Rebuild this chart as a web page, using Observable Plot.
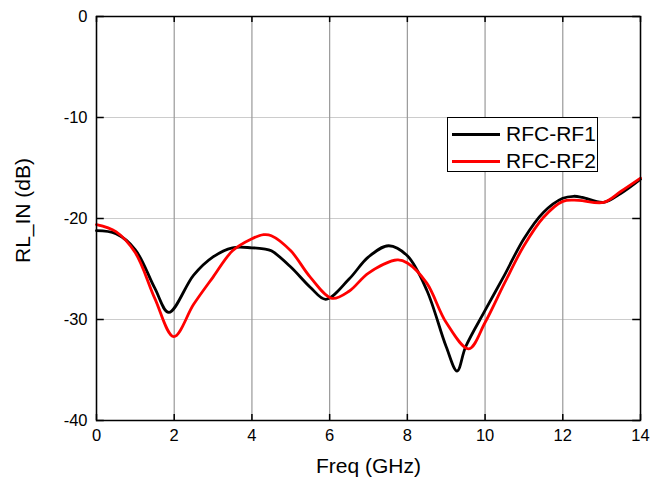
<!DOCTYPE html>
<html>
<head>
<meta charset="utf-8">
<script src="https://cdn.jsdelivr.net/npm/d3@7"></script>
<script src="https://cdn.jsdelivr.net/npm/@observablehq/plot@0.6"></script>
<style>
  body { margin: 0; background: #fff; }
  #wrap { position: relative; width: 654px; height: 489px; font-family: "Liberation Sans", Arial, sans-serif; }
  #legend { position: absolute; left: 447px; top: 117px; width: 151px; height: 55px; border: 1px solid #000; background: #fff; box-sizing: border-box; }
  .item { position: absolute; left: 0; height: 26px; display: flex; align-items: center; font-size: 21px; color: #000; }
  .item span.sw { display: inline-block; width: 48px; height: 3px; margin-left: 4px; margin-right: 6px; }
</style>
</head>
<body>
<div id="wrap"></div>
<script>
const rf1Freq = [0,0.5,1,1.5,1.86,2.5,3,3.5,4,4.3,4.5,5,5.5,5.9,6.5,7,7.52,8,8.5,9,9.28,9.5,10,10.5,11,11.5,12,12.28,12.5,13.05,13.5,14];
const rf1 = [-21.2,-21.5,-23.1,-26.9,-29.3,-25.6,-23.8,-22.9,-22.9,-23.0,-23.2,-24.8,-26.8,-28.0,-26.0,-23.8,-22.7,-23.7,-27.1,-32.7,-35.1,-32.7,-29.1,-25.6,-22.0,-19.4,-18.0,-17.8,-17.9,-18.4,-17.5,-16.1];
const rf2Freq = [0,0.5,1,1.5,1.99,2.5,3,3.5,4,4.3,4.5,5,5.5,6.06,6.5,7,7.74,8,8.5,9,9.58,10,10.5,11,11.5,12,12.4,13.05,13.5,14];
const rf2 = [-20.6,-21.3,-23.4,-27.9,-31.7,-28.5,-25.8,-23.2,-22.0,-21.6,-21.7,-23.2,-25.8,-27.9,-27.2,-25.4,-24.1,-24.4,-26.4,-30.3,-32.9,-30.3,-26.4,-22.7,-19.9,-18.3,-18.2,-18.4,-17.3,-16.0];
const xTicks = [0,2,4,6,8,10,12,14];
const yTicks = [0,-10,-20,-30,-40];
const seriesNames = ["RFC-RF1","RFC-RF2"];
const seriesColors = ["#000000","#ff0000"];
const xLabel = "Freq (GHz)";
const yLabel = "RL_IN (dB)";

const d1 = rf1Freq.map((f,i) => ({f, v: rf1[i]}));
const d2 = rf2Freq.map((f,i) => ({f, v: rf2[i]}));
const fmt = d => String(d);

const chart = Plot.plot({
  width: 654,
  height: 489,
  marginLeft: 96,
  marginRight: 14,
  marginTop: 16,
  marginBottom: 69,
  style: { fontFamily: '"Liberation Sans", Arial, sans-serif', fontSize: "16.5px", color: "#000", background: "#fff" },
  x: { domain: [0, 14], ticks: xTicks },
  y: { domain: [-40, 0], ticks: yTicks },
  marks: [
    Plot.ruleY(yTicks, { stroke: "#cccccc", strokeWidth: 1.2 }),
    Plot.ruleX(xTicks, { stroke: "#999999", strokeWidth: 1.2 }),
    // inward tick marks on all four sides
    Plot.ruleX(xTicks, { y1: -40, y2: -39.4, stroke: "#000", strokeWidth: 1.5 }),
    Plot.ruleX(xTicks, { y1: 0, y2: -0.6, stroke: "#000", strokeWidth: 1.5 }),
    Plot.ruleY(yTicks, { x1: 0, x2: 0.2, stroke: "#000", strokeWidth: 1.5 }),
    Plot.ruleY(yTicks, { x1: 14, x2: 13.8, stroke: "#000", strokeWidth: 1.5 }),
    Plot.line(d1, { x: "f", y: "v", stroke: seriesColors[0], strokeWidth: 2.8, curve: "catmull-rom" }),
    Plot.line(d2, { x: "f", y: "v", stroke: seriesColors[1], strokeWidth: 2.8, curve: "catmull-rom" }),
    Plot.frame({ stroke: "#000", strokeWidth: 1.5 }),
    Plot.axisX({ ticks: xTicks, tickSize: 0, tickPadding: 9, tickFormat: fmt, label: null }),
    Plot.axisY({ ticks: yTicks, tickSize: 0, tickPadding: 9, tickFormat: fmt, label: null }),
    Plot.text([xLabel], { frameAnchor: "bottom", dy: 52, fontSize: 21, text: d => d }),
    Plot.text([yLabel], { frameAnchor: "left", textAnchor: "middle", dx: -73, dy: -8, rotate: -90, fontSize: 21, text: d => d })
  ]
});
document.getElementById("wrap").appendChild(chart);

const legend = document.createElement("div");
legend.id = "legend";
seriesNames.forEach((name, i) => {
  const it = document.createElement("div");
  it.className = "item";
  it.style.top = (i === 0 ? 3 : 30) + "px";
  const sw = document.createElement("span");
  sw.className = "sw";
  sw.style.background = seriesColors[i];
  it.appendChild(sw);
  it.appendChild(document.createTextNode(name));
  legend.appendChild(it);
});
document.getElementById("wrap").appendChild(legend);
</script>
</body>
</html>
